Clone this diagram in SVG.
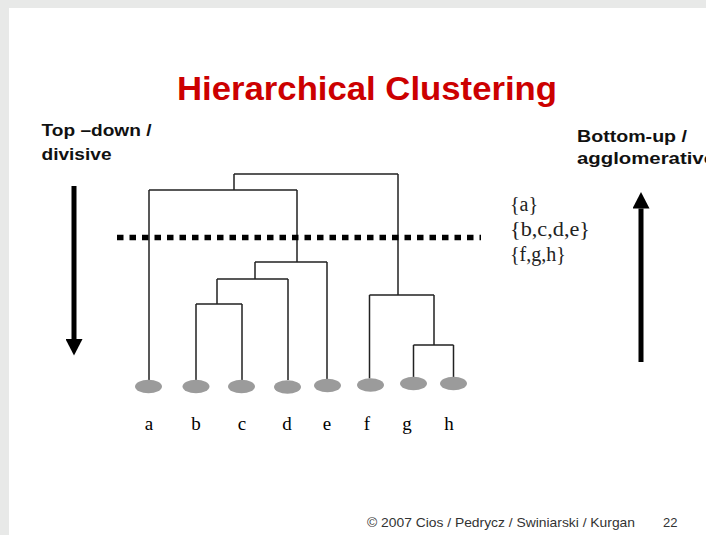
<svg xmlns="http://www.w3.org/2000/svg" width="706" height="535" viewBox="0 0 706 535">
<style>
.bg{fill:#e8e9e8}
.slide{fill:#ffffff}
.title{font-family:"Liberation Sans",Arial,sans-serif;font-weight:bold;font-size:34px;fill:#cc0000}
.side{font-family:"Liberation Sans",Arial,sans-serif;font-weight:bold;font-size:17px;fill:#111}
.set{font-family:"Liberation Serif","Times New Roman",serif;font-size:20px;fill:#222}
.leaf-label{font-family:"Liberation Serif","Times New Roman",serif;font-size:19px;fill:#000;text-anchor:middle}
.leaf{fill:#9b9b9b}
.link{stroke:#222;stroke-width:1.5;fill:none}
.cut{stroke:#000;stroke-width:5.5;stroke-dasharray:6.5 6;fill:none}
.arrow{stroke:#000;stroke-width:5;fill:none}
.foot{font-family:"Liberation Sans",Arial,sans-serif;font-size:13px;fill:#333}
</style>
<defs>
<marker id="head" markerUnits="userSpaceOnUse" markerWidth="17" markerHeight="17" refX="0" refY="8.5" orient="auto">
<path d="M0,0 L16.5,8.5 L0,17 Z" fill="#000"/>
</marker>
</defs>
<rect class="bg" x="0" y="0" width="706" height="535"/>
<rect class="slide" x="9" y="8" width="697" height="527"/>

<text class="title" x="177" y="100" textLength="380" lengthAdjust="spacingAndGlyphs">Hierarchical Clustering</text>

<g id="topdown">
<text class="side" x="41.5" y="136" textLength="110" lengthAdjust="spacingAndGlyphs">Top –down /</text>
<text class="side" x="41.5" y="160" textLength="70" lengthAdjust="spacingAndGlyphs">divisive</text>
<line class="arrow" x1="74" y1="186" x2="74" y2="339" marker-end="url(#head)"/>
</g>

<g id="bottomup">
<text class="side" x="577" y="142" textLength="110" lengthAdjust="spacingAndGlyphs">Bottom-up /</text>
<text class="side" x="577" y="164" textLength="138" lengthAdjust="spacingAndGlyphs">agglomerative</text>
<line class="arrow" x1="641" y1="362" x2="641" y2="208.5" marker-end="url(#head)"/>
</g>

<g id="sets">
<text class="set" x="510" y="211">{a}</text>
<text class="set" x="510" y="236" textLength="80" lengthAdjust="spacingAndGlyphs">{b,c,d,e}</text>
<text class="set" x="510" y="261">{f,g,h}</text>
</g>

<g id="connectors">
<path class="link" d="M234,174 H398 M234,174 V190 M149,190 H297 M149,190 V380 M297,190 V262 M255,262 H327 M327,262 V379 M255,262 V279 M217,279 H288 M288,279 V380 M217,279 V304 M196,304 H242 M196,304 V380 M242,304 V380 M398,174 V295 M369.5,295 H434 M369.5,295 V378.5 M434,295 V345 M413.5,345 H453.5 M413.5,345 V377 M453.5,345 V377"/>
<line class="cut" x1="117" y1="237.5" x2="481" y2="237.5"/>
</g>

<g id="leaf-a"><ellipse class="leaf" cx="148.5" cy="386.5" rx="13.5" ry="6.8"/><text class="leaf-label" x="149" y="430">a</text></g>
<g id="leaf-b"><ellipse class="leaf" cx="196" cy="386.5" rx="13.5" ry="6.8"/><text class="leaf-label" x="196" y="430">b</text></g>
<g id="leaf-c"><ellipse class="leaf" cx="241.5" cy="386.5" rx="13.5" ry="6.8"/><text class="leaf-label" x="242" y="430">c</text></g>
<g id="leaf-d"><ellipse class="leaf" cx="287.5" cy="387" rx="13.5" ry="6.8"/><text class="leaf-label" x="287" y="430">d</text></g>
<g id="leaf-e"><ellipse class="leaf" cx="327.5" cy="385.5" rx="13.5" ry="6.8"/><text class="leaf-label" x="327" y="430">e</text></g>
<g id="leaf-f"><ellipse class="leaf" cx="370.5" cy="385" rx="13.5" ry="6.8"/><text class="leaf-label" x="367" y="430">f</text></g>
<g id="leaf-g"><ellipse class="leaf" cx="413.5" cy="383.5" rx="13.5" ry="6.8"/><text class="leaf-label" x="407" y="430">g</text></g>
<g id="leaf-h"><ellipse class="leaf" cx="453.5" cy="383.5" rx="13.5" ry="6.8"/><text class="leaf-label" x="449" y="430">h</text></g>

<g id="footer">
<text class="foot" x="367" y="527" textLength="268" lengthAdjust="spacingAndGlyphs">© 2007 Cios / Pedrycz / Swiniarski / Kurgan</text>
<text class="foot" x="663" y="527" font-size="11">22</text>
</g>
</svg>
